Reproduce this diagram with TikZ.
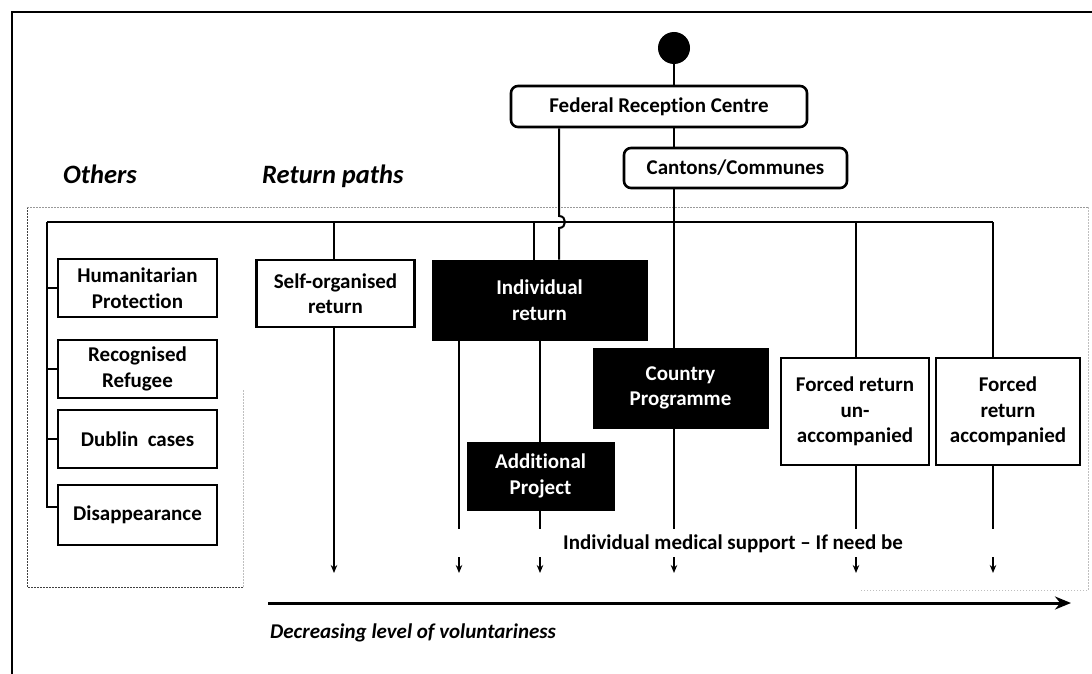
\documentclass[tikz,border=0pt]{standalone}
\usepackage{fontspec}
\setmainfont{Carlito}[RawFeature={-liga}]
\usetikzlibrary{arrows.meta}
\begin{document}
\begin{tikzpicture}[x=1pt,y=-1pt,
  boxtext/.style={font=\fontsize{21}{25.5}\selectfont\bfseries, align=center, inner sep=0pt},
  whitebox/.style={boxtext, draw, line width=2.6pt, fill=white},
  blackbox/.style={boxtext, draw, line width=1pt, fill=black, text=white},
  roundbox/.style={whitebox, rounded corners=7pt},
  conn/.style={line width=2pt},
  stub/.style={line width=2pt, -{Stealth[length=8pt,width=6.5pt]}},
  heading/.style={font=\fontsize{26.5}{30}\selectfont\bfseries\itshape, inner sep=0pt, anchor=base west},
  guide/.style={line width=0.9pt, dash pattern=on 1.5pt off 1.5pt},
]
\useasboundingbox (0,0) rectangle (1092,674);

% outer frame (top and left edges)
\draw[line width=1.6pt] (1092,12) -- (12,12) -- (12,674);

% dashed grouping regions
\draw[guide, black!75] (27,207) -- (27,587) -- (243,587);
\draw[guide, black!40] (27,207) -- (1088,207);
\draw[guide, black!25] (243,390) -- (243,587);
\draw[guide, black!25] (1088,207) -- (1088,590) -- (860,590);

% headings
\node[heading] (others) at (63,183) {Others};
\node[heading] (paths) at (262,183) {Return paths};

% entry point and reception
\node[circle, fill=black, minimum size=32pt, inner sep=0pt] (start) at (674,48) {};
\node[roundbox, minimum width=296pt, minimum height=41pt] (frc) at (659,106.5) {Federal Reception Centre};
\node[roundbox, minimum width=223pt, minimum height=40pt] (cc) at (735.5,168) {Cantons/Communes};

% other outcomes
\node[whitebox, minimum width=159pt, minimum height=58pt] (hum) at (137.5,288) {Humanitarian\\Protection};
\node[whitebox, minimum width=159pt, minimum height=58pt] (rec) at (137.5,369) {Recognised\\Refugee};
\node[whitebox, minimum width=159pt, minimum height=58pt] (dub) at (137.5,439) {Dublin\ \ cases};
\node[whitebox, minimum width=159pt, minimum height=60pt] (dis) at (137.5,515) {Disappearance};

% return paths
\node[whitebox, minimum width=158pt, minimum height=67pt] (sor) at (335.5,293.5) {Self-organised\\return};
\node[blackbox, minimum width=215pt, minimum height=80pt] (ir) at (539.5,300) {Individual\\return};
\node[blackbox, minimum width=175pt, minimum height=80pt] (cp) at (680.5,388) {Country\\Programme};
\node[blackbox, minimum width=147pt, minimum height=68pt] (ap) at (540.5,476) {Additional\\Project};
\node[whitebox, minimum width=148pt, minimum height=107pt] (fru) at (855,411.5) {Forced return\\un-\\accompanied};
\node[whitebox, minimum width=144pt, minimum height=107pt] (fra) at (1008,411.5) {Forced\\return\\accompanied};

\node[boxtext, anchor=base west] (med) at (563,549) {Individual medical support -- If need be};

% column positions and levels
\coordinate (busL) at (47,222);
\coordinate (busR) at (993,222);
\coordinate (colS) at (334,0);
\coordinate (colI) at (534,0);
\coordinate (colH) at (559,0);
\coordinate (colA) at (459,0);
\coordinate (colB) at (540,0);
\coordinate (colC) at (674,0);
\coordinate (colU) at (856,0);
\coordinate (colF) at (993,0);
\coordinate (gapTop) at (0,529);
\coordinate (stubTop) at (0,557);
\coordinate (stubBot) at (0,573);
\coordinate (brk) at (47,507);

% upper connectors
\draw[conn] (start) -- (frc.north -| colC);
\draw[conn] (frc.south -| colC) -- (cc.north -| colC);
\draw[conn] (cc.south -| colC) -- (cp.north -| colC);
\draw[conn] (frc.south -| colH) -- (559,216) .. controls (567,216) and (567,228) .. (559,228) -- (ir.north -| colH);

% distribution bus
\draw[conn] (busL) -- (busR);
\draw[conn] (busL) -- (brk) -- (brk -| dis.west);
\draw[conn] (hum.west) -- (hum.west -| busL);
\draw[conn] (rec.west) -- (rec.west -| busL);
\draw[conn] (dub.west) -- (dub.west -| busL);
\draw[conn] (busL -| colS) -- (sor.north -| colS);
\draw[conn] (busL -| colI) -- (ir.north -| colI);
\draw[conn] (busL -| colU) -- (fru.north -| colU);
\draw[conn] (busR) -- (fra.north -| colF);

% lower connectors
\draw[stub] (sor.south -| colS) -- (stubBot -| colS);
\draw[conn] (ir.south -| colA) -- (gapTop -| colA);
\draw[conn] (ir.south -| colB) -- (ap.north -| colB);
\draw[conn] (ap.south -| colB) -- (gapTop -| colB);
\draw[conn] (cp.south -| colC) -- (gapTop -| colC);
\draw[conn] (fru.south -| colU) -- (gapTop -| colU);
\draw[conn] (fra.south -| colF) -- (gapTop -| colF);
\foreach \c in {colA,colB,colC,colU,colF}
  \draw[stub] (stubTop -| \c) -- (stubBot -| \c);

% voluntariness axis
\coordinate (volL) at (268,603);
\coordinate (volR) at (1071,603);
\draw[line width=3pt, -{Stealth[length=16pt,width=13pt]}] (volL) -- (volR);
\node[font=\fontsize{21}{25}\selectfont\bfseries\itshape, anchor=base west, inner sep=0pt] (vol) at (270,638) {Decreasing level of voluntariness};
\end{tikzpicture}
\end{document}
